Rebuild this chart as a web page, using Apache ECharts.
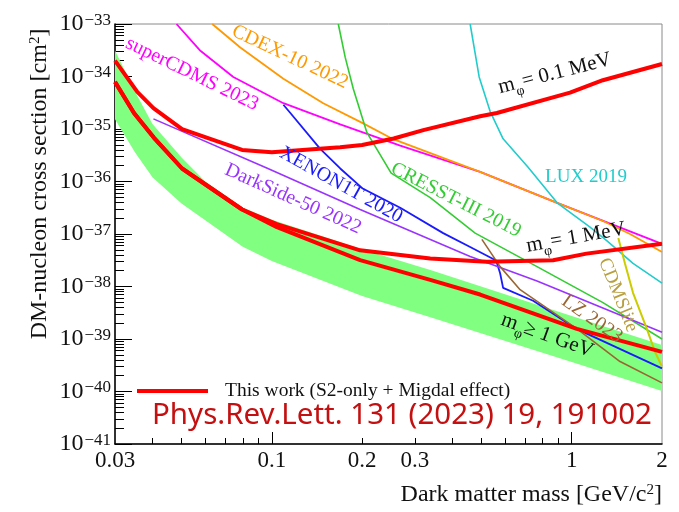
<!DOCTYPE html>
<html><head><meta charset="utf-8">
<script src="https://cdn.jsdelivr.net/npm/echarts@6/dist/echarts.min.js"></script>
<style>html,body{margin:0;padding:0;background:#fff}#c{width:679px;height:512px}</style>
</head><body><div id="c"></div>
<script>
// ---------- data (mass in GeV/c^2, cross section in cm^2) ----------
const xLabelValues = [0.03, 0.1, 0.2, 0.3, 1, 2];
const xMajorTicks = [0.1, 1];
const xMinorTicks = [0.04, 0.05, 0.06, 0.07, 0.08, 0.09, 0.2, 0.3, 0.4, 0.5, 0.6, 0.7, 0.8, 0.9];
const yDecades = [-41, -40, -39, -38, -37, -36, -35, -34, -33];

const red01MeV_m = [0.03, 0.0356, 0.0403, 0.0502, 0.0796, 0.1, 0.169, 0.2, 0.255, 0.32, 0.495, 0.563, 0.987, 1.27, 2.0];
const red01MeV_s = [2.0e-34, 5.1e-35, 2.5e-35, 9.9e-36, 4.0e-36, 3.6e-36, 4.47e-36, 4.96e-36, 6.6e-36, 9.5e-36, 1.75e-35, 2.02e-35, 4.92e-35, 8.5e-35, 1.73e-34];

const red1MeV_m = [0.03, 0.0347, 0.0404, 0.0502, 0.0796, 0.104, 0.197, 0.3375, 0.521, 0.867, 1.12, 2.0];
const red1MeV_s = [7.9e-35, 2.02e-35, 6.87e-36, 1.77e-36, 2.93e-37, 1.54e-37, 4.88e-38, 3.41e-38, 2.96e-38, 3.17e-38, 4.23e-38, 6.5e-38];

const red1GeV_m = [0.03, 0.0347, 0.0404, 0.0502, 0.0796, 0.104, 0.197, 0.3375, 0.495, 1.04, 2.0];
const red1GeV_s = [7.9e-35, 2.02e-35, 6.87e-36, 1.77e-36, 2.93e-37, 1.35e-37, 3.17e-38, 1.34e-38, 7.03e-39, 1.56e-39, 5.7e-40];

const band_m = [0.03, 0.035, 0.04, 0.05, 0.06, 0.08, 0.1, 0.2, 0.34, 1.0, 2.0];
const bandLow_s = [1.54e-35, 3.56e-36, 1.21e-36, 3.8e-37, 1.83e-37, 5.7e-38, 3.06e-38, 6.6e-39, 2.58e-39, 3.64e-40, 1.02e-40];
const bandUp_s = [3.13e-34, 5.13e-35, 1.24e-35, 2.87e-36, 1.0e-36, 3.2e-37, 1.87e-37, 5.13e-38, 2.03e-38, 2.75e-39, 7.7e-40];

const superCDMS_m = [0.0481, 0.0578, 0.0744, 0.1093, 0.1691, 0.268, 0.495, 0.894, 2.0];
const superCDMS_s = [1e-33, 3.09e-34, 9.8e-35, 3.1e-35, 1.22e-35, 4.81e-36, 1.52e-36, 3.92e-37, 6.5e-38];

const cdex_m = [0.0633, 0.0785, 0.1093, 0.1484, 0.2002, 0.254, 0.495, 0.894, 1.271, 1.564, 2.0];
const cdex_s = [1e-33, 3.56e-34, 9.1e-35, 3.1e-35, 1.31e-35, 6.4e-36, 1.52e-36, 3.92e-37, 1.77e-37, 1.0e-37, 4.55e-38];

const cresst_m = [0.1666, 0.1757, 0.1869, 0.2076, 0.25, 0.3375, 0.4764, 0.766, 1.271, 2.0];
const cresst_s = [1e-33, 2.31e-34, 5.83e-35, 8.5e-36, 1.44e-36, 4.92e-37, 1.04e-37, 2.39e-38, 4.92e-39, 1e-39];

const lux_m = [0.4585, 0.4913, 0.5343, 0.5905, 0.7154, 0.894, 1.151, 1.311, 1.601, 2.0];
const lux_s = [1e-33, 9.8e-35, 2.17e-35, 6.5e-36, 1.87e-36, 3.92e-37, 1.35e-37, 7.4e-38, 2.75e-38, 1.16e-38];

const xenon_m = [0.1093, 0.1153, 0.145, 0.1691, 0.2002, 0.268, 0.3727, 0.4585, 0.5597, 0.5771, 0.5905, 0.7435, 1.0416, 2.0];
const xenon_s = [2.9e-35, 2.02e-35, 4.18e-36, 1.77e-36, 7.46e-37, 3.16e-37, 1.04e-37, 5.64e-38, 3.13e-38, 1.79e-38, 9.4e-39, 5.36e-39, 1.54e-39, 2.75e-40];

const darkside_m = [0.0403, 0.0966, 0.197, 0.4585, 0.766, 2.0];
const darkside_s = [1.56e-35, 1.79e-36, 2.93e-37, 3.72e-38, 1.27e-38, 1.35e-39];

const lz_m = [0.5017, 0.5772, 0.6727, 1.0416, 1.449, 2.0];
const lz_s = [7.9e-38, 2.39e-38, 8.7e-39, 1.56e-39, 3.72e-40, 1.46e-40];

const cdmslite_m = [1.43, 1.505, 1.601, 1.782, 1.895, 2.0];
const cdmslite_s = [8.4e-38, 2.75e-38, 7.57e-39, 1.54e-39, 5.7e-40, 3.0e-40];

// ---------- chart ----------
const UNIT = 1e41; // plotted in units of 1e-41 cm^2 (labels show true powers)
const FONT = "'Liberation Serif','Times New Roman',serif";
const LEGEND_NAME = 'This work (S2-only + Migdal effect)';

const yMajor = yDecades.map(e => Math.pow(10, e + 41));
const yMinor = [];
yDecades.slice(0, -1).forEach(e => { for (let k = 2; k <= 9; k++) yMinor.push(k * Math.pow(10, e + 41)); });

function pairs(m, s) { return m.map((v, i) => [v, s[i] * UNIT]); }
function line(name, m, s, color, width, z) {
  return { type: 'line', name, data: pairs(m, s), showSymbol: false, symbol: 'none',
    lineStyle: { color, width }, itemStyle: { color }, z, silent: true, clip: true,
    emphasis: { disabled: true } };
}

const chart = echarts.init(document.getElementById('c'), null, { renderer: 'canvas' });

const axBase = { type: 'log', logBase: 10, splitLine: { show: false }, minorTick: { show: false } };

function rotText(x, y, deg, text, color, size, rich) {
  return { type: 'text', x, y, rotation: deg * Math.PI / 180, z: 100, silent: true,
    style: { text, fill: color, fontFamily: FONT, fontSize: size, align: 'center', verticalAlign: 'middle', rich } };
}
const mRich = {
  m: { fontFamily: FONT, fontSize: 21, lineHeight: 22, verticalAlign: 'top', fill: '#111' },
  sub: { fontFamily: FONT, fontSize: 14, lineHeight: 14, padding: [12, 0, 0, 0], verticalAlign: 'top', fill: '#111' }
};

const option = {
  animation: false,
  backgroundColor: '#fff',
  grid: { left: 115, top: 16, width: 547, height: 428, show: true, borderColor: '#8a8a8a', borderWidth: 1, backgroundColor: 'transparent' },
  legend: {
    data: [{ name: LEGEND_NAME, icon: 'rect' }], left: 137, top: 381, padding: 0,
    itemWidth: 71, itemHeight: 4, selectedMode: false,
    textStyle: { fontFamily: FONT, fontSize: 19.5, color: '#111', lineHeight: 20, padding: [0, 0, 0, 12] }
  },
  xAxis: [
    Object.assign({}, axBase, { min: 0.03, max: 2, position: 'bottom',
      axisLine: { show: true, lineStyle: { color: '#000', width: 1.5 } },
      axisTick: { show: true, inside: true, length: 12, customValues: xMajorTicks, lineStyle: { color: '#000', width: 1 } },
      axisLabel: { show: true, customValues: xLabelValues, margin: 5, color: '#111', fontFamily: FONT, fontSize: 23,
        formatter: v => String(+(+v).toPrecision(3)) } }),
    Object.assign({}, axBase, { min: 0.03, max: 2, position: 'bottom',
      axisLine: { show: false },
      axisTick: { show: true, inside: true, length: 6, customValues: xMinorTicks, lineStyle: { color: '#000', width: 1 } },
      axisLabel: { show: false } })
  ],
  yAxis: [
    Object.assign({}, axBase, { min: 1, max: 1e8, position: 'left',
      axisLine: { show: true, lineStyle: { color: '#000', width: 1.5 } },
      axisTick: { show: true, inside: true, length: 17, customValues: yMajor, lineStyle: { color: '#000', width: 1 } },
      axisLabel: { show: true, customValues: yMajor, margin: 4, color: '#111',
        formatter: v => { const e = Math.round(Math.log10(v)) - 41; return '{b|10}{s|' + (e < 0 ? '\u2212' : '') + Math.abs(e) + '}'; },
        rich: {
          b: { fontFamily: FONT, fontSize: 24, lineHeight: 24, padding: [12, 1, 0, 0], verticalAlign: 'bottom', color: '#111' },
          s: { fontFamily: FONT, fontSize: 17, lineHeight: 17, verticalAlign: 'top', color: '#111' }
        } } }),
    Object.assign({}, axBase, { min: 1, max: 1e8, position: 'left',
      axisLine: { show: false },
      axisTick: { show: true, inside: true, length: 9, customValues: yMinor, lineStyle: { color: '#000', width: 1 } },
      axisLabel: { show: false } })
  ],
  series: [
    { type: 'custom', name: 'band', coordinateSystem: 'cartesian2d', z: 1, silent: true,
      data: band_m.map((m, i) => [m, bandLow_s[i] * UNIT, bandUp_s[i] * UNIT]),
      encode: { x: 0, y: [1, 2] },
      renderItem: (params, api) => {
        if (params.dataIndex !== 0) return null;
        const pts = [];
        for (let i = 0; i < band_m.length; i++) pts.push(api.coord([band_m[i], bandUp_s[i] * UNIT]));
        for (let i = band_m.length - 1; i >= 0; i--) pts.push(api.coord([band_m[i], bandLow_s[i] * UNIT]));
        return { type: 'polygon', shape: { points: pts }, style: { fill: '#80ff80', stroke: null } };
      } },
    line('superCDMS 2023', superCDMS_m, superCDMS_s, '#ff00ff', 1.8, 3),
    line('CDEX-10 2022', cdex_m, cdex_s, '#ff9900', 1.8, 3),
    line('CRESST-III 2019', cresst_m, cresst_s, '#33cc33', 1.6, 3),
    line('LUX 2019', lux_m, lux_s, '#22cccc', 1.6, 3),
    line('XENON1T 2020', xenon_m, xenon_s, '#1a1aff', 1.8, 3),
    line('DarkSide-50 2022', darkside_m, darkside_s, '#9933ff', 1.6, 3),
    line('LZ 2023', lz_m, lz_s, '#996633', 1.6, 3),
    line('CDMSlite', cdmslite_m, cdmslite_s, '#cccc00', 2, 3),
    line(LEGEND_NAME, red01MeV_m, red01MeV_s, '#ff0000', 4, 5),
    line(LEGEND_NAME, red1MeV_m, red1MeV_s, '#ff0000', 4, 5),
    line(LEGEND_NAME, red1GeV_m, red1GeV_s, '#ff0000', 4, 5)
  ],
  graphic: [
    rotText(192, 74, -26, 'superCDMS 2023', '#ff00ff', 20),
    rotText(290, 57, -25, 'CDEX-10 2022', '#ff9900', 20),
    rotText(341, 185, -29, 'XENON1T 2020', '#1a1aff', 20),
    rotText(293, 199, -24, 'DarkSide-50 2022', '#9933ff', 20),
    rotText(456, 200, -27, 'CRESST-III 2019', '#33cc33', 20),
    rotText(586, 177, 0, 'LUX 2019', '#22cccc', 19),
    rotText(592, 319, -35, 'LZ 2023', '#996633', 20),
    rotText(618, 295, -68, 'CDMSlite', '#b8a040', 19),
    rotText(555, 74, 14.4, '{m|m}{sub|\u03c6}{m|= 0.1 MeV}', '#111', 21, mRich),
    rotText(576, 238, 10, '{m|m}{sub|\u03c6}{m|= 1 MeV}', '#111', 21, mRich),
    rotText(547, 336, -20, '{m|m}{sub|\u03c6}{m|\u2265 1 GeV}', '#111', 21, mRich),
    { type: 'text', x: 402, y: 416, z: 100, silent: true,
      style: { text: 'Phys.Rev.Lett. 131 (2023) 19, 191002', fill: '#c41010', fontFamily: "'Noto Sans'", fontSize: 29.5, align: 'center', verticalAlign: 'middle' } },
    { type: 'text', x: 662, y: 495, z: 100, silent: true,
      style: { text: '{n|Dark matter mass [GeV/c}{s|2}{n|]}', align: 'right', verticalAlign: 'middle',
        rich: { n: { fontFamily: FONT, fontSize: 24, lineHeight: 24, padding: [6, 0, 0, 0], verticalAlign: 'bottom', fill: '#111' },
                s: { fontFamily: FONT, fontSize: 15, lineHeight: 15, verticalAlign: 'top', fill: '#111' } } } },
    { type: 'text', x: 40, y: 184, rotation: Math.PI / 2, z: 100, silent: true,
      style: { text: '{n|DM-nucleon cross section [cm}{s|2}{n|]}', align: 'center', verticalAlign: 'middle',
        rich: { n: { fontFamily: FONT, fontSize: 24, lineHeight: 24, padding: [6, 0, 0, 0], verticalAlign: 'bottom', fill: '#111' },
                s: { fontFamily: FONT, fontSize: 15, lineHeight: 15, verticalAlign: 'top', fill: '#111' } } } }
  ]
};
chart.setOption(option);
</script>
</body></html>
